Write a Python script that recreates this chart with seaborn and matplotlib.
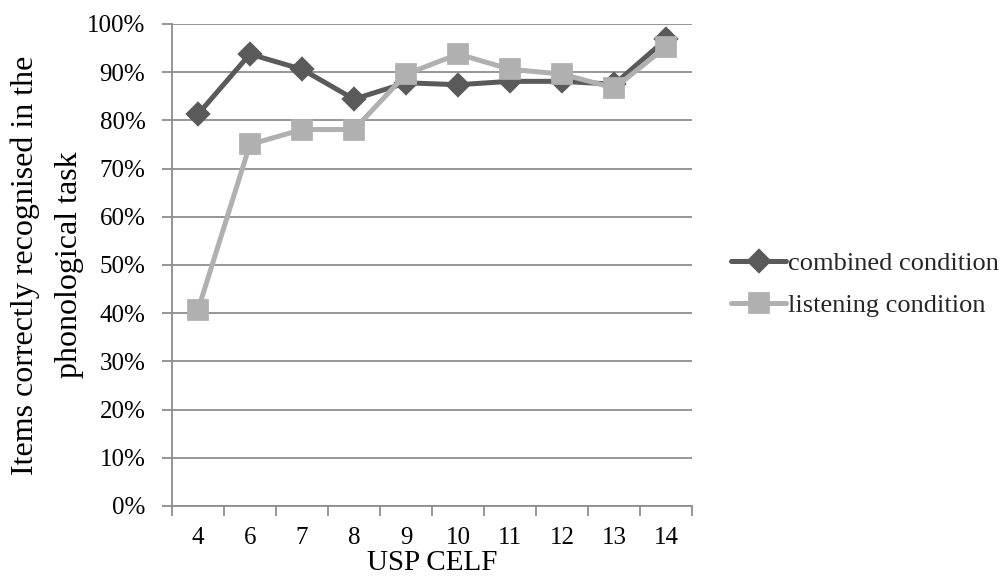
import matplotlib
matplotlib.use("Agg")
import matplotlib.pyplot as plt
import seaborn as sns
import pandas as pd
import numpy as np
from matplotlib.ticker import FixedLocator, PercentFormatter

celf = ["4", "6", "7", "8", "9", "10", "11", "12", "13", "14"]
combined = [81.25, 93.75, 90.6, 84.4, 87.8, 87.4, 88.1, 88.1, 87.5, 96.9]
listening = [40.6, 75.0, 78.1, 78.1, 89.6, 93.75, 90.6, 89.6, 86.7, 95.3]
series_names = ["combined condition", "listening condition"]

df = pd.DataFrame({
    "celf": celf * 2,
    "value": combined + listening,
    "condition": [series_names[0]] * len(celf) + [series_names[1]] * len(celf),
})

sns.set_theme(style="white")
plt.rcParams["font.family"] = ["Liberation Serif", "DejaVu Serif"]

fig = plt.figure(figsize=(10.05, 5.78), dpi=100)
ax = fig.add_axes([0.171, 0.1246, 0.518, 0.8339])

grid_c = "#8e8e8e"
ax.yaxis.grid(True, color=grid_c, linewidth=1.3)
ax.set_axisbelow(True)

sns.pointplot(data=df, x="celf", y="value", hue="condition", order=celf,
              hue_order=series_names, palette=["#5a5a5a", "#b0b0b0"],
              markers=["D", "s"], linestyles=["-", "-"], dodge=False,
              markersize=10, linewidth=3.6, ax=ax, errorbar=None)
for ln in ax.lines:
    if ln.get_marker() == "s":
        ln.set_markersize(12.5)
    elif ln.get_marker() == "D":
        ln.set_markersize(10)

ax.set_xlim(-0.5, len(celf) - 0.5)
ax.set_ylim(0, 100)
ax.yaxis.set_major_locator(FixedLocator(np.arange(0, 101, 10)))
ax.yaxis.set_major_formatter(PercentFormatter(decimals=0))

ax.set_xticks(range(len(celf)))
ax.set_xticklabels(celf)
ax.xaxis.set_minor_locator(FixedLocator(np.arange(-0.5, len(celf), 1.0)))
ax.tick_params(axis="x", which="major", length=0, labelsize=18, pad=15, colors="black")
ax.tick_params(axis="x", which="minor", length=7, width=1.3, color=grid_c, bottom=True)
ax.tick_params(axis="y", which="major", length=7, width=1.3, color=grid_c, labelsize=18,
               pad=12, left=True, labelcolor="black")

for s in ["top", "right"]:
    ax.spines[s].set_visible(False)
for s in ["left", "bottom"]:
    ax.spines[s].set_color(grid_c)
    ax.spines[s].set_linewidth(1.3)

ax.set_xlabel("USP CELF", fontsize=21, labelpad=0.5, color="black")
ax.set_ylabel("Items correctly recognised in the\nphonological task", fontsize=23,
              color="black", labelpad=2, linespacing=1.7)

leg = ax.legend(loc="center left", bbox_to_anchor=(1.075, 0.46), frameon=False,
                fontsize=19, handlelength=2.05, handletextpad=0.1, labelspacing=0.72,
                borderaxespad=0, borderpad=0)

fig.savefig("out.png", dpi=100)
